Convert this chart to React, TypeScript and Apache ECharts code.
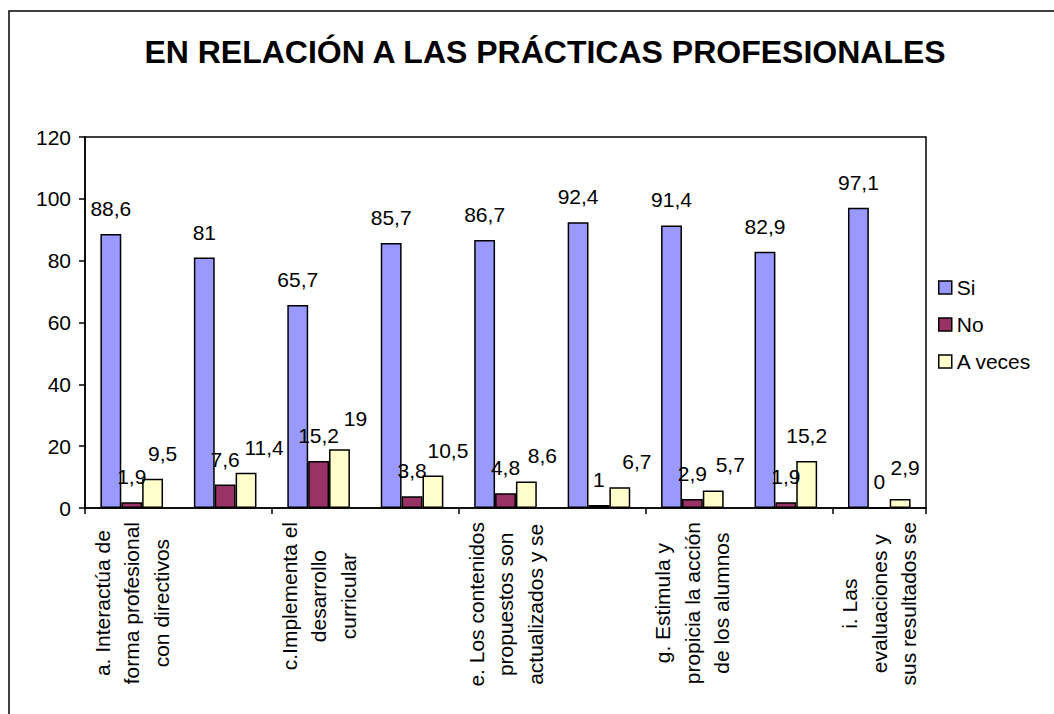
import React, { useEffect, useRef } from "react";
import * as echarts from "echarts";

const TITLE = "EN RELACIÓN A LAS PRÁCTICAS PROFESIONALES";
const categories = [
  "a. Interactúa de\nforma profesional\ncon directivos",
  "b.",
  "c.Implementa el\ndesarrollo\ncurricular",
  "d.",
  "e. Los contenidos\npropuestos son\nactualizados y se",
  "f.",
  "g. Estimula y\npropicia la acción\nde los alumnos",
  "h.",
  "i. Las\nevaluaciones y\nsus resultados se",
];
const seriesNames = ["Si", "No", "A veces"];
const siValues = [88.6, 81, 65.7, 85.7, 86.7, 92.4, 91.4, 82.9, 97.1];
const noValues = [1.9, 7.6, 15.2, 3.8, 4.8, 1, 2.9, 1.9, 0];
const aVecesValues = [9.5, 11.4, 19, 10.5, 8.6, 6.7, 5.7, 15.2, 2.9];
const yTicks = { min: 0, max: 120, interval: 20 };

// label placement tweaks (style only) for the "A veces" series
const aVecesLabelOffsets: [number, number][] = [
  [10, 0], [18, 0], [16, -5], [15, 0], [16, 0], [17, 0], [17, 0], [0, 0], [5, -6],
];

const colors = ["#9999FF", "#993366", "#FFFFCC"];
const FONT = 'Arial, "Liberation Sans", sans-serif';

export default function App() {
  const ref = useRef<HTMLDivElement>(null);
  useEffect(() => {
    document.body.style.margin = "0";
    const chart = echarts.init(ref.current!, null, { renderer: "svg" });
    const fmt = (p: any) => String(p.value).replace(".", ",");
    const labelBase = {
      show: true,
      position: "top",
      distance: 15,
      color: "#000",
      fontSize: 21,
      fontFamily: FONT,
      formatter: fmt,
    };
    const mk = (name: string, values: number[], idx: number) => ({
      name,
      type: "bar",
      barGap: "0%",
      barCategoryGap: "33%",
      itemStyle: { color: colors[idx], borderColor: "#000", borderWidth: 1.5 },
      label: labelBase,
      data:
        idx === 2
          ? values.map((v, i) => ({
              value: v,
              label: { offset: aVecesLabelOffsets[i] },
            }))
          : values,
    });
    chart.setOption({
      animation: false,
      textStyle: { fontFamily: FONT },
      title: {
        text: TITLE,
        left: 540,
        textAlign: "center",
        top: 31,
        textStyle: { fontSize: 32, fontWeight: "bold", color: "#000", fontFamily: FONT },
      },
      graphic: [
        {
          type: "rect",
          shape: { x: 9, y: 11, width: 1200, height: 900 },
          style: { fill: "none", stroke: "#000", lineWidth: 1.5 },
          silent: true,
        },
      ],
      legend: {
        orient: "vertical",
        left: 933,
        top: 272,
        itemWidth: 13,
        itemHeight: 13,
        itemGap: 16,
        icon: "rect",
        data: seriesNames,
        itemStyle: { borderColor: "#000", borderWidth: 1.5 },
        textStyle: { fontSize: 21, lineHeight: 21, color: "#000", fontFamily: FONT },
      },
      grid: {
        left: 85,
        right: 128,
        top: 137,
        bottom: 206,
        show: true,
        borderColor: "#000",
        borderWidth: 1.5,
        containLabel: false,
      },
      xAxis: {
        type: "category",
        data: categories,
        axisLine: { lineStyle: { color: "#000", width: 1.5 } },
        axisTick: { show: true, length: 6, lineStyle: { color: "#000", width: 1.5 } },
        axisLabel: {
          interval: 1,
          rotate: 90,
          margin: 14,
          formatter: (v: string) =>
            v
              .split("\n")
              .map((l) => `{c|${l}}`)
              .join("\n"),
          rich: {
            c: { align: "center", fontSize: 21, lineHeight: 29.5, color: "#000", fontFamily: FONT },
          },
        },
      },
      yAxis: {
        type: "value",
        min: yTicks.min,
        max: yTicks.max,
        interval: yTicks.interval,
        splitLine: { show: false },
        axisLine: { show: true, lineStyle: { color: "#000", width: 1.5 } },
        axisTick: { show: true, length: 6, lineStyle: { color: "#000", width: 1.5 } },
        axisLabel: { fontSize: 21, color: "#000", margin: 14, fontFamily: FONT },
      },
      series: [
        mk(seriesNames[0], siValues, 0),
        mk(seriesNames[1], noValues, 1),
        mk(seriesNames[2], aVecesValues, 2),
      ],
    });
    return () => chart.dispose();
  }, []);
  return <div ref={ref} style={{ width: 1054, height: 714 }} />;
}
